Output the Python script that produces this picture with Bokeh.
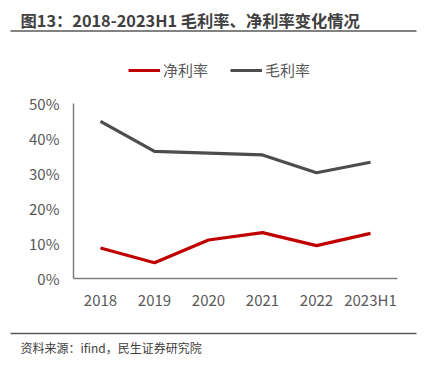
from bokeh.plotting import figure
from bokeh.models import (Range1d, FixedTicker, NumeralTickFormatter, Legend, LegendItem,
                          Label, BoxAnnotation, ColumnDataSource, LinearAxis)
from bokeh.embed import file_html
from bokeh.resources import INLINE

years = ["2018", "2019", "2020", "2021", "2022", "2023H1"]
net_margin = [8.7, 4.5, 11.0, 13.1, 9.4, 12.9]      # 净利率 %
gross_margin = [44.9, 36.3, 35.8, 35.3, 30.2, 33.2]  # 毛利率 %
y_ticks = [0, 10, 20, 30, 40, 50]

title_text = "图13：2018-2023H1 毛利率、净利率变化情况"
source_text = "资料来源：ifind，民生证券研究院"

FONT = "Noto Sans CJK SC"
TXT = "#595959"
W, H = 426, 366

# layout geometry (pixels): plot area 73..397 x, 103..278 y
X0, DX = 100, 54          # first category centre, category step
Y0, PPU = 278, 350        # pixel of 0%, pixels per unit (1.0 = 100%)

idx = list(range(len(years)))
src = ColumnDataSource(dict(x=idx,
                            net=[v / 100 for v in net_margin],
                            gross=[v / 100 for v in gross_margin]))

p = figure(width=W, height=H,
           x_range=Range1d(-X0 / DX, (W - X0) / DX),
           y_range=Range1d(-(H - Y0) / PPU, Y0 / PPU),
           x_axis_location=None, y_axis_location=None,
           output_backend="svg", toolbar_location=None,
           min_border=0, min_border_left=0, min_border_right=0,
           min_border_top=0, min_border_bottom=0)
p.outline_line_color = None
p.grid.visible = False

r_net = p.line("x", "net", source=src, line_color="#C00000", line_width=3.2)
r_gross = p.line("x", "gross", source=src, line_color="#4D4D4D", line_width=3.2)

yax = LinearAxis(fixed_location=-0.5, bounds=(0, 0.5),
                 ticker=FixedTicker(ticks=[t / 100 for t in y_ticks]),
                 formatter=NumeralTickFormatter(format="0%"))
xax = LinearAxis(fixed_location=0, bounds=(-0.5, len(years) - 0.5),
                 ticker=FixedTicker(ticks=idx),
                 major_label_overrides={i: y for i, y in zip(idx, years)})
for ax in (xax, yax):
    ax.axis_line_color = "#7F7F7F"
    ax.axis_line_width = 1.5
    ax.major_tick_line_color = None
    ax.minor_tick_line_color = None
    ax.major_tick_out = 0
    ax.major_tick_in = 0
    ax.major_label_text_color = TXT
    ax.major_label_text_font = FONT
    ax.major_label_text_font_size = "15px"
yax.major_label_standoff = 14
xax.major_label_standoff = 10
p.add_layout(yax, "left")
p.add_layout(xax, "below")

legend = Legend(items=[LegendItem(label="净利率", renderers=[r_net]),
                       LegendItem(label="毛利率", renderers=[r_gross])],
                orientation="horizontal", location=(128, H - 80),
                label_text_font=FONT, label_text_font_size="15px", label_text_color=TXT,
                glyph_width=32, glyph_height=20, label_height=20, label_standoff=3,
                spacing=22, padding=0, margin=0,
                border_line_color=None, background_fill_alpha=0)
p.add_layout(legend, "center")

p.add_layout(Label(x=20, y=H - 19, x_units="screen", y_units="screen", text=title_text,
                   text_font=FONT, text_font_size="16.3px", text_font_style="bold",
                   text_color="#404040", text_baseline="middle"))
p.add_layout(Label(x=20, y=19, x_units="screen", y_units="screen", text=source_text,
                   text_font=FONT, text_font_size="12px",
                   text_color="#404040", text_baseline="middle"))

for yy in (H - 30.5, H - 333):
    p.add_layout(BoxAnnotation(left=10, right=416, bottom=yy - 0.75, top=yy + 0.75,
                               left_units="screen", right_units="screen",
                               bottom_units="screen", top_units="screen",
                               fill_color="#595959", fill_alpha=1, line_color=None))

open("out.html", "w").write(file_html(p, INLINE))
